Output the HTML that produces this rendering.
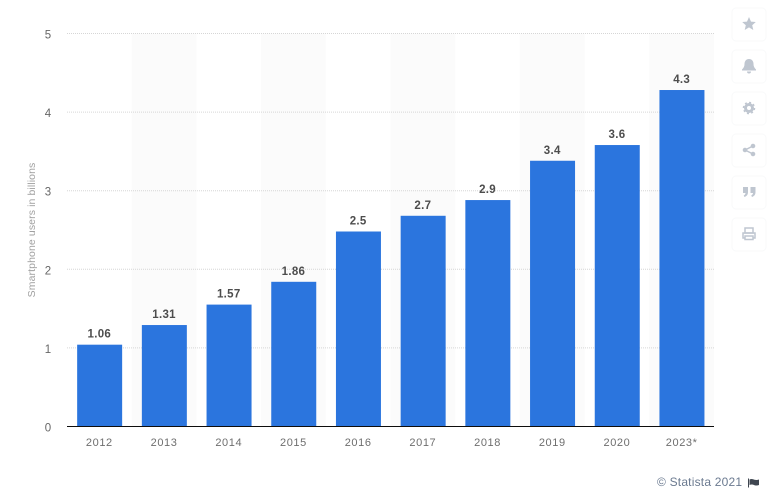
<!DOCTYPE html>
<html lang="en">
<head>
<meta charset="utf-8">
<title>Smartphone users in billions</title>
<style>
html,body{margin:0;padding:0;background:#fff;width:772px;height:498px;overflow:hidden}
svg{display:block}
text{font-family:"Liberation Sans",sans-serif}
</style>
</head>
<body>
<svg id="chart" width="772" height="498" viewBox="0 0 772 498" xmlns="http://www.w3.org/2000/svg">
  <g id="bands"></g>
  <g id="grid"></g>
  <g id="bars"></g>
  <g id="values"></g>
  <line x1="67" x2="714" y1="426.500" y2="426.500" stroke="#0d0d0d" stroke-width="1"/>
  <g id="xticks"></g>
  <g id="yticks"></g>
  <text transform="translate(35,230) rotate(-90)" text-anchor="middle" font-size="10.500" letter-spacing="0.100" fill="#a0a0a0">Smartphone users in billions</text>

  <g>
    <g>
      <rect x="732" y="8" width="34" height="33" rx="4" fill="#fff" stroke="#f8f9fa"/>
      <polygon points="749,17 751,21.600 755.800,22 752.200,25.200 753.300,30 749,27.400 744.700,30 745.800,25.200 742.200,22 747,21.600" fill="#bfc6d0"/>
    </g>
    <g>
      <rect x="732" y="50" width="34" height="33" rx="4" fill="#fff" stroke="#f8f9fa"/>
      <path d="M749 59c3 0 4.500 2.300 4.500 5 0 2.500 1 4 2.500 5.500v1h-14v-1c1.500-1.500 2.500-3 2.500-5.500 0-2.700 1.500-5 4.500-5zM747 71.500h4a2 2 0 0 1-4 0z" fill="#bfc6d0"/>
    </g>
    <g>
      <rect x="732" y="92" width="34" height="33" rx="4" fill="#fff" stroke="#f8f9fa"/>
      <circle cx="749" cy="108" r="3.500" fill="none" stroke="#bfc6d0" stroke-width="3"/>
      <circle cx="749" cy="108" r="5.500" fill="none" stroke="#bfc6d0" stroke-width="1.500" stroke-dasharray="2 2.300"/>
    </g>
    <g>
      <rect x="732" y="134" width="34" height="33" rx="4" fill="#fff" stroke="#f8f9fa"/>
      <g fill="#bfc6d0" stroke="#bfc6d0">
        <line x1="745" y1="150" x2="753" y2="146" stroke-width="1.500"/>
        <line x1="745" y1="150" x2="753" y2="154" stroke-width="1.500"/>
        <circle cx="745" cy="150" r="1.800"/>
        <circle cx="753" cy="146" r="1.800"/>
        <circle cx="753" cy="154" r="1.800"/>
      </g>
    </g>
    <g>
      <rect x="732" y="176" width="34" height="33" rx="4" fill="#fff" stroke="#f8f9fa"/>
      <path d="M743 187h5v5c0 2.500-1 4-3.500 5l-.8-1.500c1.200-.6 1.800-1.400 1.800-2.500H743zM750.500 187h5v5c0 2.500-1 4-3.500 5l-.8-1.500c1.200-.6 1.800-1.400 1.800-2.500h-2.500z" fill="#bfc6d0"/>
    </g>
    <g>
      <rect x="732" y="218" width="34" height="33" rx="4" fill="#fff" stroke="#f8f9fa"/>
      <g fill="none" stroke="#bfc6d0" stroke-width="1.500">
        <rect x="745" y="228" width="8" height="5"/>
        <rect x="743" y="233" width="12" height="5"/>
        <rect x="745" y="236" width="8" height="3.500" fill="#fff"/>
      </g>
    </g>
  </g>

  <text x="657" y="486" font-size="12" letter-spacing="0.200" fill="#6b7a90">© Statista 2021</text>
  <path d="M748 478.500h1v9h-1zM749.500 479.500c2-1 3.500-.3 5 .2 1.500.4 3 .3 4.500-.2v5.500c-1.500.6-3 .6-4.500.2-1.500-.5-3-1.100-5-.2z" fill="#3f4650"/>
</svg>
<script>
const categories = ["2012","2013","2014","2015","2016","2017","2018","2019","2020","2023*"];
const seriesValues = [1.06,1.31,1.57,1.86,2.5,2.7,2.9,3.4,3.6,4.3];
const valueLabels = ["1.06","1.31","1.57","1.86","2.5","2.7","2.9","3.4","3.6","4.3"];
const yTickValues = [0,1,2,3,4,5];

const NS = "http://www.w3.org/2000/svg";
const plotLeft = 67, plotRight = 714, plotBottom = 426.5, plotTop = 33.5, yMax = 5;
const step = (plotRight - plotLeft) / categories.length;
const barWidth = 45;
function xScale(i){ return plotLeft + step * i + step / 2; }
function yScale(v){ return plotBottom - (plotBottom - plotTop) * v / yMax; }
function make(tag, attrs, parent, txt){
  const el = document.createElementNS(NS, tag);
  for (const k in attrs) el.setAttribute(k, attrs[k]);
  if (txt !== undefined) el.textContent = txt;
  parent.appendChild(el);
  return el;
}
const bandsG = document.getElementById("bands");
const gridG = document.getElementById("grid");
const barsG = document.getElementById("bars");
const valuesG = document.getElementById("values");
const xG = document.getElementById("xticks");
const yG = document.getElementById("yticks");

categories.forEach(function(c, i){
  if (i % 2 === 1) {
    const band = make("rect", {x: plotLeft + step * i, y: plotTop, width: step, height: plotBottom - plotTop, fill: "#fbfbfb"}, bandsG);
    
    
  }
});
yTickValues.forEach(function(t){
  if (t > 0) {
    const line = make("line", {x1: plotLeft, x2: plotRight, y1: yScale(t), y2: yScale(t), stroke: "#d6d6d6", "stroke-width": 1, "stroke-dasharray": "1 1"}, gridG);
    
    
  }
  const label = make("text", {x: 48, y: yScale(t) + 5, "text-anchor": "middle", "font-size": 11.5, fill: "#666"}, yG, String(t));
  
  
});
seriesValues.forEach(function(v, i){
  const top = yScale(v) + 1.5;
  const bar = make("rect", {x: xScale(i) - barWidth / 2 + 0.3, y: top, width: barWidth, height: plotBottom - top, fill: "#2b75de"}, barsG);
  
  
  const val = make("text", {x: xScale(i), y: top - 7, "text-anchor": "middle", "font-size": 11.5, "font-weight": "bold", "letter-spacing": 0.3, fill: "#4d4d4d"}, valuesG, valueLabels[i]);
  
  
  const tick = make("text", {x: xScale(i), y: 446, "text-anchor": "middle", "font-size": 11, "letter-spacing": 0.6, fill: "#6e6e6e"}, xG, categories[i]);
  
  
});
</script>
</body>
</html>
